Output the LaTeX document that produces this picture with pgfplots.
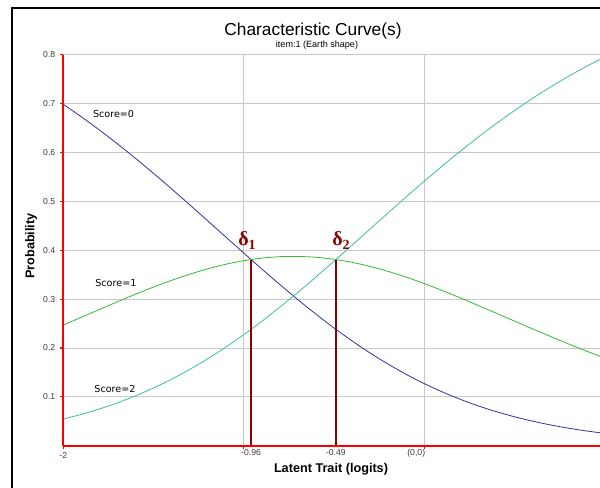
\documentclass[border=0pt]{standalone}
\usepackage{fontspec}
\setmainfont{Liberation Sans}
\newfontfamily\dejavu{DejaVu Sans}
\newfontfamily\serifd{Liberation Serif}
\usepackage{pgfplots}
\usepackage{pgfplotstable}
\pgfplotsset{compat=1.18}
\definecolor{czero}{RGB}{50,50,160}
\definecolor{cone}{RGB}{50,185,50}
\definecolor{ctwo}{RGB}{60,190,160}
\definecolor{axred}{RGB}{255,0,0}
\definecolor{gridgray}{RGB}{200,200,200}
\definecolor{dred}{RGB}{140,0,0}
\definecolor{ticktxt}{RGB}{60,60,60}

\pgfplotstableread{
x P0 P1 P2
-2.0 0.6985 0.2469 0.0546
-1.9 0.6729 0.2629 0.0642
-1.8 0.6459 0.2788 0.0752
-1.7 0.6175 0.2946 0.0879
-1.6 0.5879 0.3100 0.1022
-1.5 0.5571 0.3247 0.1182
-1.4 0.5254 0.3384 0.1362
-1.3 0.4930 0.3509 0.1561
-1.2 0.4601 0.3619 0.1779
-1.1 0.4270 0.3713 0.2017
-1.0 0.3941 0.3786 0.2273
-0.96 0.3810 0.3810 0.2381
-0.9 0.3615 0.3838 0.2547
-0.8 0.3296 0.3868 0.2837
-0.7 0.2987 0.3873 0.3140
-0.6 0.2690 0.3856 0.3454
-0.5 0.2408 0.3815 0.3777
-0.49 0.2381 0.3810 0.3810
-0.4 0.2143 0.3752 0.4105
-0.3 0.1896 0.3668 0.4436
-0.2 0.1668 0.3566 0.4766
-0.1 0.1459 0.3448 0.5093
0.0 0.1270 0.3317 0.5414
0.1 0.1100 0.3174 0.5726
0.2 0.0948 0.3024 0.6028
0.3 0.0813 0.2868 0.6319
0.4 0.0695 0.2709 0.6596
0.5 0.0592 0.2549 0.6859
0.6 0.0502 0.2390 0.7108
0.7 0.0425 0.2234 0.7342
0.8 0.0358 0.2081 0.7561
0.9 0.0301 0.1934 0.7765
1.0 0.0253 0.1793 0.7955
}\curves

\begin{document}
\begin{tikzpicture}
\useasboundingbox (0,0) rectangle (450pt,366pt);
\fill[white] (0,0) rectangle (450pt,366pt);
% outer frame (top and left)
\draw[black, line width=1.1pt] (9pt,0) -- (9pt,360pt) -- (450pt,360pt);
\begin{axis}[
  at={(47.5pt,31.7pt)}, anchor=south west,
  scale only axis, width=402.5pt, height=293.25pt,
  xmin=-2, xmax=0.973, ymin=0, ymax=0.8,
  axis x line=bottom, axis y line=left,
  axis line style={draw=axred, line width=1.1pt, -},
  tick align=outside,
  major tick length=2.5pt,
  every tick/.style={draw=axred, line width=0.8pt},
  xtick={-2,-1,0}, xticklabels={-2,{},{}},
  extra x ticks={-0.96,-0.49,-0.045},
  extra x tick labels={-0.96,-0.49,{(0,0)}},
  extra x tick style={grid=none, major tick length=0pt},
  ytick={0.1,0.2,0.3,0.4,0.5,0.6,0.7,0.8},
  yticklabel style={/pgf/number format/fixed, /pgf/number format/precision=1},
  /pgf/number format/assume math mode=true,
  tick label style={font=\fontsize{6.5}{7}\selectfont, text=ticktxt},
  xticklabel style={yshift=1pt},
  xmajorgrids, ymajorgrids,
  major grid style={draw=gridgray, line width=0.6pt},
  clip=true,
]
\addplot[czero, line width=0.6pt, smooth] table[x=x, y=P0] {\curves};
\addplot[cone, line width=0.6pt, smooth] table[x=x, y=P1] {\curves};
\addplot[ctwo, line width=0.6pt, smooth] table[x=x, y=P2] {\curves};
\addplot[dred, line width=1.5pt] coordinates {(-0.96,0) (-0.96,0.381)};
\addplot[dred, line width=1.5pt] coordinates {(-0.49,0) (-0.49,0.381)};
\node[anchor=west, font=\dejavu\fontsize{7.2}{8}\selectfont, inner sep=0pt] at (axis cs:-1.837,0.679) {Score=0};
\node[anchor=west, font=\dejavu\fontsize{7.2}{8}\selectfont, inner sep=0pt] at (axis cs:-1.824,0.333) {Score=1};
\node[anchor=west, font=\dejavu\fontsize{7.2}{8}\selectfont, inner sep=0pt] at (axis cs:-1.829,0.116) {Score=2};
\end{axis}
% red axis lines drawn on top
\draw[axred, line width=1.4pt] (47.5pt,325pt) -- (47.5pt,31.7pt);
\draw[axred, line width=1.4pt] (47.5pt,31.7pt) -- (450pt,31.7pt);
% delta labels
\node[anchor=base west, inner sep=0pt, text=dred, font=\serifd\bfseries\fontsize{15}{16}\selectfont] at (178.5pt,181.5pt) {δ\raisebox{-2.5pt}{\fontsize{10.5}{11}\selectfont 1}};
\node[anchor=base west, inner sep=0pt, text=dred, font=\serifd\bfseries\fontsize{15}{16}\selectfont] at (249pt,181.5pt) {δ\raisebox{-2.5pt}{\fontsize{10.5}{11}\selectfont 2}};
% titles and axis labels
\node[font=\fontsize{13}{15}\selectfont] at (234.75pt,342.75pt) {Characteristic Curve(s)};
\node[font=\fontsize{6.8}{8}\selectfont] at (237.75pt,332.25pt) {item:1 (Earth shape)};
\node[font=\bfseries\fontsize{9.5}{11}\selectfont] at (248.25pt,14.25pt) {Latent Trait (logits)};
\node[font=\bfseries\fontsize{9.5}{11}\selectfont, rotate=90] at (23.25pt,181.5pt) {Probability};
\end{tikzpicture}
\end{document}
